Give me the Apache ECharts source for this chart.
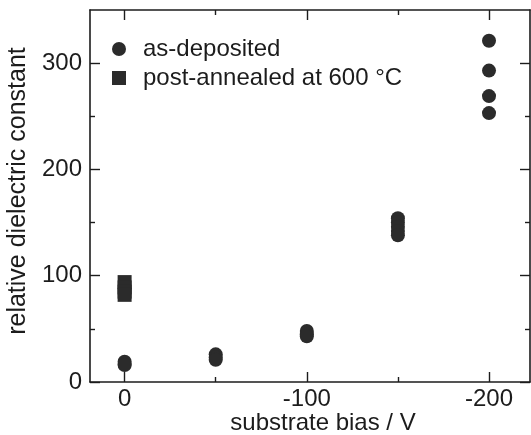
<!DOCTYPE html>
<html>
<head>
<meta charset="utf-8">
<script src="https://cdn.jsdelivr.net/npm/echarts@6/dist/echarts.min.js"></script>
<style>
html,body{margin:0;padding:0;background:#ffffff;}
#c{width:531px;height:435px;}
</style>
</head>
<body>
<div id="c"></div>
<script>
// ---- data ----
const asDepositedBias = [0, 0, 0, -50, -50, -50, -100, -100, -100, -150, -150, -150, -150, -150, -200, -200, -200, -200];
const asDepositedEps  = [19, 17, 16, 26, 23, 21, 48, 45, 43, 154, 150, 146, 142, 138, 321, 293, 269, 253];
const annealedBias = [0, 0, 0, 0];
const annealedEps  = [94, 89, 85, 82];
const xMajorTicks = [0, -100, -200];
const xMinorTicks = [-50, -150];
const yMajorTicks = [0, 100, 200, 300];
const yMinorTicks = [50, 150, 250];
const seriesNames = ['as-deposited', 'post-annealed at 600 °C'];
const xTitle = 'substrate bias / V';
const yTitle = 'relative dielectric constant';

const FONT = '"Liberation Sans", Arial, Helvetica, sans-serif';
const INK = '#1c1c1c';
const MARK = '#2b2b2b';
const xMin = -222.5, xMax = 19, yMin = 0, yMax = 350;

function xAx(pos, ticks, len, showLine, labels, name) {
  return {
    type: 'value', position: pos, inverse: true, min: xMin, max: xMax,
    name: name || '', nameLocation: 'middle', nameGap: 29, nameMoveOverlap: false,
    nameTextStyle: {fontFamily: FONT, fontSize: 24, color: INK, padding: [0, 0, 0, 26]},
    axisLine: {show: showLine, onZero: false, lineStyle: {color: INK, width: 1.6}},
    axisTick: {show: true, inside: true, length: len, customValues: ticks, lineStyle: {color: INK, width: 1.4}},
    axisLabel: {show: labels, customValues: ticks, margin: 5, fontFamily: FONT, fontSize: 24, color: INK},
    splitLine: {show: false}
  };
}
function yAx(pos, ticks, len, showLine, labels, name) {
  return {
    type: 'value', position: pos, min: yMin, max: yMax,
    name: name || '', nameLocation: 'middle', nameGap: 58,
    nameTextStyle: {fontFamily: FONT, fontSize: 25, color: INK, padding: [0, 0, 0, 10]},
    axisLine: {show: showLine, onZero: false, lineStyle: {color: INK, width: 1.6}},
    axisTick: {show: true, inside: true, length: len, customValues: ticks, lineStyle: {color: INK, width: 1.4}},
    axisLabel: {show: labels, customValues: ticks, margin: 8, fontFamily: FONT, fontSize: 24, color: INK},
    splitLine: {show: false}
  };
}

const chart = echarts.init(document.getElementById('c'), null, {renderer: 'canvas'});
chart.setOption({
  animation: false,
  backgroundColor: '#ffffff',
  grid: {left: 90, right: 1, top: 10, bottom: 53, containLabel: false, outerBoundsMode: 'none'},
  legend: {
    orient: 'vertical', left: 112, top: 37, padding: 0,
    itemWidth: 14, itemHeight: 14, itemGap: 5,
    textStyle: {fontFamily: FONT, fontSize: 24, color: INK, lineHeight: 24, padding: [0, 0, 0, 12]},
    data: [{name: seriesNames[0], icon: 'circle'}, {name: seriesNames[1], icon: 'rect'}]
  },
  xAxis: [
    xAx('bottom', xMajorTicks, 10, true, true, xTitle),
    xAx('bottom', xMinorTicks, 5, false, false),
    xAx('top', xMajorTicks, 10, true, false),
    xAx('top', xMinorTicks, 5, false, false)
  ],
  yAxis: [
    yAx('left', yMajorTicks, 10, true, true, yTitle),
    yAx('left', yMinorTicks, 5, false, false),
    yAx('right', yMajorTicks, 10, true, false),
    yAx('right', yMinorTicks, 5, false, false)
  ],
  series: [
    {
      name: seriesNames[0], type: 'scatter', symbol: 'circle', symbolSize: 14,
      itemStyle: {color: MARK, opacity: 1}, xAxisIndex: 0, yAxisIndex: 0,
      data: asDepositedBias.map((b, i) => [b, asDepositedEps[i]])
    },
    {
      name: seriesNames[1], type: 'scatter', symbol: 'rect', symbolSize: 14,
      itemStyle: {color: MARK, opacity: 1}, xAxisIndex: 0, yAxisIndex: 0,
      data: annealedBias.map((b, i) => [b, annealedEps[i]])
    }
  ]
});
</script>
</body>
</html>
